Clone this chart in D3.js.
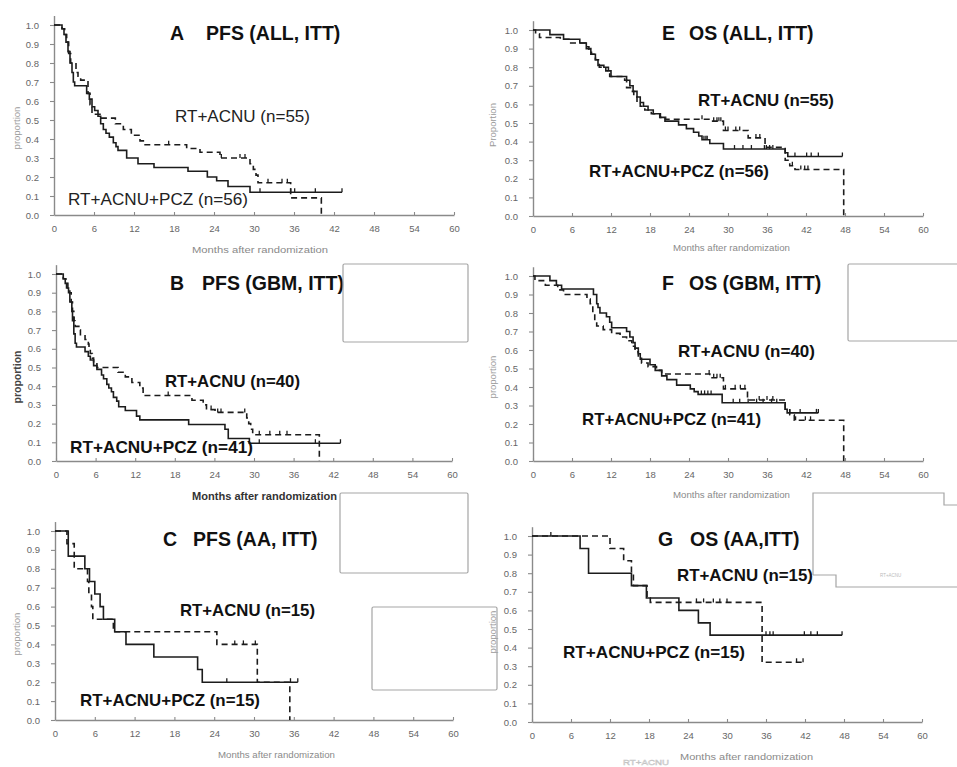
<!DOCTYPE html>
<html><head><meta charset="utf-8">
<script src="https://cdn.jsdelivr.net/npm/d3@7"></script>
<style>body{margin:0;background:#fff} svg{display:block}</style>
</head><body>
<svg id="chart" width="957" height="767"></svg>
<script>
// ---------- tick values ----------
const xTicks = [0,6,12,18,24,30,36,42,48,54,60];
const yTicks = [0,0.1,0.2,0.3,0.4,0.5,0.6,0.7,0.8,0.9,1.0];
const seriesNames = ["RT+ACNU", "RT+ACNU+PCZ"];
const panelLetters = ["A","E","B","F","C","G"];
const panelTitles = ["PFS (ALL, ITT)","OS (ALL, ITT)","PFS (GBM, ITT)","OS (GBM, ITT)","PFS (AA, ITT)","OS (AA,ITT)"];
const nACNU = [55,55,40,40,15,15];
const nPCZ  = [56,56,41,41,15,15];

// ---------- A: PFS (ALL) ----------
const pfsAllPCZ = [[0,1],[1.2,0.98],[1.5,0.95],[1.8,0.91],[2.1,0.86],[2.4,0.80],[2.7,0.75],[2.9,0.70],[3.1,0.68],[4.9,0.64],[5.3,0.61],[5.7,0.57],[6.1,0.55],[6.6,0.52],[7.0,0.48],[7.4,0.45],[7.8,0.43],[8.3,0.41],[8.9,0.38],[9.3,0.36],[9.6,0.34],[10.9,0.30],[12.6,0.27],[15.0,0.25],[20.1,0.23],[23.0,0.20],[24.4,0.18],[26.1,0.15],[29.4,0.12]];
const pfsAllPCZCens = [30.9,35.5,36.1,39.2,43.2];
const pfsAllACNU = [[0,1],[1.2,0.98],[1.6,0.95],[1.9,0.91],[2.2,0.85],[2.5,0.80],[3.3,0.75],[3.6,0.73],[4.0,0.71],[5.1,0.64],[5.4,0.58],[5.7,0.53],[6.9,0.51],[9.2,0.48],[10.4,0.45],[11.6,0.42],[12.9,0.39],[13.4,0.37],[19.9,0.35],[21.9,0.33],[24.9,0.30],[29.4,0.27],[29.9,0.24],[30.3,0.21],[30.6,0.17],[35.5,0.09],[40.1,0]];
const pfsAllACNUCens = [17.2,25.1,27.9,28.65,32.1,34.2,35.0];

// ---------- E: OS (ALL) ----------
const osAllPCZ = [[0,1],[2.6,0.975],[4.7,0.95],[7.2,0.93],[8.2,0.90],[8.9,0.87],[9.6,0.84],[10.0,0.81],[10.9,0.80],[11.6,0.78],[12.0,0.75],[14.4,0.73],[14.9,0.70],[15.4,0.67],[16.0,0.64],[16.5,0.61],[17.0,0.59],[17.7,0.57],[18.5,0.55],[19.5,0.53],[20.3,0.51],[22.4,0.49],[23.6,0.47],[24.7,0.45],[25.5,0.43],[26.0,0.41],[27.2,0.39],[29.3,0.36],[38.8,0.34],[39.2,0.32]];
const osAllPCZCens = [26.3,26.6,26.8,31.0,32.3,33.6,35.6,35.9,36.4,36.9,40.3,42.1,42.8,43.9,47.6];
const osAllACNU = [[0,1],[0.4,0.98],[1.0,0.96],[4.2,0.95],[5.8,0.93],[8.1,0.91],[8.6,0.89],[9.0,0.87],[9.6,0.84],[10.2,0.80],[11.2,0.78],[11.8,0.75],[14.1,0.73],[14.4,0.69],[15.0,0.67],[15.5,0.64],[16.0,0.61],[16.5,0.59],[17.2,0.57],[18.2,0.55],[19.6,0.53],[20.4,0.52],[27.2,0.51],[29.3,0.46],[33.1,0.42],[35.7,0.37],[38.8,0.30],[39.5,0.27],[40.3,0.25],[47.8,0]];
const osAllACNUCens = [26.0,27.8,28.3,28.6,28.9,29.6,30.0,31.2,31.8,34.3,34.9,39.9,41.2,41.8,42.3];

// ---------- B: PFS (GBM) ----------
const pfsGbmPCZ = [[0,1],[1.1,0.975],[1.4,0.95],[1.6,0.925],[1.9,0.90],[2.1,0.85],[2.4,0.80],[2.5,0.75],[2.7,0.68],[2.9,0.63],[3.1,0.61],[4.4,0.585],[4.9,0.56],[5.2,0.54],[5.7,0.51],[6.2,0.49],[6.9,0.46],[7.2,0.44],[7.7,0.41],[8.0,0.39],[8.4,0.37],[8.7,0.34],[9.2,0.32],[9.5,0.29],[10.5,0.27],[12.2,0.24],[12.7,0.22],[20.1,0.195],[25.6,0.17],[26.1,0.12],[29.3,0.095]];
const pfsGbmPCZCens = [30.8,39.3,43.1];
const pfsGbmACNU = [[0,1],[1.1,0.975],[1.5,0.95],[1.8,0.925],[2.1,0.90],[2.3,0.85],[2.5,0.80],[2.7,0.75],[2.9,0.72],[3.6,0.70],[3.7,0.675],[4.4,0.65],[4.9,0.625],[5.0,0.60],[5.2,0.575],[5.5,0.55],[5.7,0.525],[6.2,0.50],[9.4,0.475],[10.5,0.45],[11.5,0.42],[12.7,0.39],[13.2,0.35],[20.6,0.325],[22.3,0.30],[22.8,0.275],[24.1,0.26],[28.9,0.23],[29.2,0.20],[29.5,0.17],[29.8,0.14],[39.9,0]];
const pfsGbmACNUCens = [2.75,17.0,23.5,24.5,25.0,28.6,30.8,32.4,33.9,35.0];

// ---------- F: OS (GBM) ----------
const osGbmPCZ = [[0,1],[2.6,0.975],[3.6,0.95],[4.4,0.93],[9.3,0.90],[9.8,0.85],[10.0,0.83],[10.3,0.80],[11.3,0.78],[11.8,0.75],[12.1,0.72],[14.4,0.70],[14.9,0.67],[15.4,0.64],[15.7,0.61],[16.2,0.58],[16.5,0.55],[18.0,0.52],[18.8,0.49],[19.8,0.46],[20.6,0.44],[22.1,0.41],[24.2,0.39],[24.8,0.375],[25.4,0.36],[29.1,0.315],[38.8,0.28],[39.1,0.26]];
const osGbmPCZCens = [25.9,26.4,26.9,27.4,30.8,31.8,33.1,34.4,35.4,36.7,37.5,39.5,41.1,43.6,43.9];
const osGbmACNU = [[0,1],[0.3,0.975],[1.9,0.95],[3.8,0.925],[4.7,0.90],[8.3,0.875],[8.8,0.85],[9.2,0.80],[9.5,0.75],[9.8,0.73],[10.8,0.71],[12.1,0.69],[13.4,0.67],[14.4,0.65],[15.2,0.62],[15.7,0.59],[16.2,0.56],[16.7,0.53],[17.7,0.51],[19.0,0.49],[19.8,0.47],[27.2,0.45],[29.3,0.39],[33.0,0.33],[38.8,0.28],[39.5,0.25],[40.2,0.22],[47.8,0]];
const osGbmACNUCens = [27.1,27.8,28.3,28.8,29.6,31.1,31.9,32.6,34.8,36.0,36.9,40.4,41.9,42.7];

// ---------- C: PFS (AA) ----------
const pfsAaPCZ = [[0,1],[2.0,0.867],[4.5,0.80],[5.2,0.733],[6.0,0.667],[6.8,0.60],[7.3,0.533],[9.0,0.467],[10.7,0.40],[14.9,0.333],[21.5,0.267],[22.2,0.20]];
const pfsAaPCZCens = [25.9,35.5,36.6];
const pfsAaACNU = [[0,1],[1.8,0.933],[2.9,0.80],[4.9,0.733],[5.1,0.667],[5.5,0.60],[5.7,0.533],[8.8,0.467],[24.4,0.40],[30.5,0.20],[35.4,0]];
const pfsAaACNUCens = [27.1,28.4,30.2];

// ---------- G: OS (AA) ----------
const osAaPCZ = [[0,1],[7.4,0.933],[8.7,0.80],[15.3,0.733],[17.6,0.667],[22.6,0.60],[25.6,0.533],[27.4,0.467]];
const osAaPCZCens = [2.9,36.0,36.6,37.1,41.9,42.9,43.9,47.7];
const osAaACNU = [[0,1],[12.0,0.933],[14.1,0.867],[15.3,0.80],[15.6,0.733],[17.7,0.667],[18.2,0.643],[35.4,0.321]];
const osAaACNUCens = [25.3,26.4,27.9,28.9,30.0,40.7,41.7];

// ---------- layout (positions only) ----------
const layout = [
  {x0:54,x1:454,y0:215,y1:25, t:[170,206,40], la:[175,122,135], lp:[68,205,180], bold:false,
   xl:[192,253,136], yl:[20,128], ylText:"proportion", ylStyle:"light", curves:[pfsAllACNU,pfsAllACNUCens,pfsAllPCZ,pfsAllPCZCens]},
  {x0:533,x1:923,y0:216,y1:30, t:[662,689,40], la:[698,106,136], lp:[589,177,180], bold:true,
   xl:[673,251,117], yl:[496,125], ylText:"Proportion", ylStyle:"light", curves:[osAllACNU,osAllACNUCens,osAllPCZ,osAllPCZCens]},
  {x0:56,x1:452,y0:461,y1:274, t:[170,202,290], la:[165,387,135], lp:[70,453,183], bold:true,
   xl:[192,500,145], yl:[21,377], ylText:"proportion", ylStyle:"dark", curves:[pfsGbmACNU,pfsGbmACNUCens,pfsGbmPCZ,pfsGbmPCZCens]},
  {x0:533,x1:923,y0:461,y1:276, t:[662,689,290], la:[678,357,137], lp:[582,425,179], bold:true,
   xl:[673,498,117], yl:[496,377], ylText:"proportion", ylStyle:"light", curves:[osGbmACNU,osGbmACNUCens,osGbmPCZ,osGbmPCZCens]},
  {x0:55,x1:453,y0:720,y1:531, t:[163,193,546], la:[180,616,135], lp:[80,706,180], bold:true,
   xl:[218,758,117], yl:[20,634], ylText:"proportion", ylStyle:"light", curves:[pfsAaACNU,pfsAaACNUCens,pfsAaPCZ,pfsAaPCZCens]},
  {x0:532,x1:922,y0:722,y1:536, t:[658,690,546], la:[677,581,136], lp:[563,658,182], bold:true,
   xl:[680,760,133], yl:[496,632], ylText:"proportion", ylStyle:"light", curves:[osAaACNU,osAaACNUCens,osAaPCZ,osAaPCZCens]}
];

const svg = d3.select("#chart");
const FONT = "'Liberation Sans', Arial, Helvetica, sans-serif";
const AX = "#8a8a8a";

function survAt(steps, t){ let s = 1; for (const [tt,v] of steps){ if (tt <= t) s = v; else break; } return s; }
function withEnd(steps, cens){
  const last = steps[steps.length-1];
  const tEnd = Math.max(last[0], d3.max(cens) || 0);
  return tEnd > last[0] ? steps.concat([[tEnd, last[1]]]) : steps;
}

layout.forEach((p, i) => {
  const g = svg.append("g");
  const x = d3.scaleLinear().domain([0,60]).range([p.x0, p.x1]);
  const y = d3.scaleLinear().domain([0,1]).range([p.y0, p.y1]);
  const yAx = d3.scaleLinear().domain([0,1.05]).range([p.y0, p.y0 - 1.05*(p.y0 - p.y1)]);

  const xa = g.append("g").attr("transform", `translate(0,${p.y0})`)
    .call(d3.axisBottom(x).tickValues(xTicks).tickFormat(d3.format("d")).tickSizeInner(-3).tickSizeOuter(0).tickPadding(10));
  const ya = g.append("g").attr("transform", `translate(${p.x0},0)`)
    .call(d3.axisLeft(yAx).tickValues(yTicks).tickFormat(d3.format(".1f")).tickSizeInner(4).tickSizeOuter(0).tickPadding(11));
  [xa, ya].forEach(a => {
    a.select(".domain").attr("stroke", AX).attr("stroke-width", 1.4);
    a.selectAll(".tick line").attr("stroke", AX).attr("stroke-width", 1.1);
    a.selectAll(".tick text").attr("fill", "#666").attr("font-size", 9.5).attr("font-family", FONT);
  });

  const line = d3.line().x(d => x(d[0])).y(d => y(d[1])).curve(d3.curveStepAfter);
  const [acnu, acnuC, pcz, pczC] = p.curves;
  const series = [
    {steps: acnu, cens: acnuC, dash: "6,4"},
    {steps: pcz, cens: pczC, dash: null}
  ];
  series.forEach(s => {
    g.append("path").datum(withEnd(s.steps, s.cens)).attr("d", line)
      .attr("fill", "none").attr("stroke", "#1c1c1c").attr("stroke-width", 1.6)
      .attr("stroke-dasharray", s.dash);
    g.selectAll(null).data(s.cens).enter().append("line")
      .attr("x1", d => x(d)).attr("x2", d => x(d))
      .attr("y1", d => y(survAt(s.steps, d)) - 4).attr("y2", d => y(survAt(s.steps, d)))
      .attr("stroke", "#1c1c1c").attr("stroke-width", 1.3);
  });

  // title
  g.append("text").attr("x", p.t[0]).attr("y", p.t[2]).text(panelLetters[i])
    .attr("font-family", FONT).attr("font-weight", "bold").attr("font-size", 19.5).attr("fill", "#111");
  g.append("text").attr("x", p.t[1]).attr("y", p.t[2]).text(panelTitles[i])
    .attr("font-family", FONT).attr("font-weight", "bold").attr("font-size", 19.5).attr("fill", "#111");

  // series labels
  [[p.la, `${seriesNames[0]} (n=${nACNU[i]})`], [p.lp, `${seriesNames[1]} (n=${nPCZ[i]})`]].forEach(([pos, txt]) => {
    g.append("text").attr("x", pos[0]).attr("y", pos[1]).text(txt)
      .attr("font-family", FONT).attr("font-weight", p.bold ? "bold" : "normal")
      .attr("font-size", 17).attr("fill", p.bold ? "#111" : "#222")
      .attr("textLength", pos[2]).attr("lengthAdjust", "spacingAndGlyphs");
  });

  // axis titles
  const dark = p.ylStyle === "dark";
  g.append("text").attr("x", p.xl[0]).attr("y", p.xl[1]).text("Months after randomization")
    .attr("font-family", FONT).attr("font-size", dark ? 10.5 : 9.5)
    .attr("font-weight", dark ? "bold" : "normal").attr("fill", dark ? "#333" : "#8a8a8a")
    .attr("textLength", p.xl[2]).attr("lengthAdjust", "spacingAndGlyphs");
  g.append("text").attr("transform", `translate(${p.yl[0]},${p.yl[1]}) rotate(-90)`)
    .attr("text-anchor", "middle").text(p.ylText)
    .attr("font-family", FONT).attr("font-size", dark ? 10.5 : 9.5)
    .attr("font-weight", dark ? "bold" : "normal").attr("fill", dark ? "#444" : "#9a9a9a");
});

// empty boxes present in the figure
const boxes = [[343,264,125,78],[848,264,120,77],[340,493,128,80],[372,607,125,83]];
svg.selectAll(null).data(boxes).enter().append("rect")
  .attr("x", d => d[0]).attr("y", d => d[1]).attr("width", d => d[2]).attr("height", d => d[3])
  .attr("rx", 1.5).attr("fill", "none").attr("stroke", "#a5a5a5").attr("stroke-width", 1.2);
svg.append("path").attr("d", "M813,575 L813,493 L944,493 L944,505 L960,505 M813,575 L836,575 L836,587 L960,587")
  .attr("fill", "none").attr("stroke", "#a5a5a5").attr("stroke-width", 1.2);
svg.append("text").attr("x", 880).attr("y", 577).text("RT+ACNU").attr("font-size", 4.5).attr("fill", "#bbb").attr("font-family", FONT);
svg.append("text").attr("x", 623).attr("y", 765).text("RT+ACNU").attr("font-size", 8).attr("fill", "none")
  .attr("stroke", "#c4c4c4").attr("stroke-width", 0.5).attr("font-family", FONT)
  .attr("textLength", 46).attr("lengthAdjust", "spacingAndGlyphs");
</script>
</body></html>
